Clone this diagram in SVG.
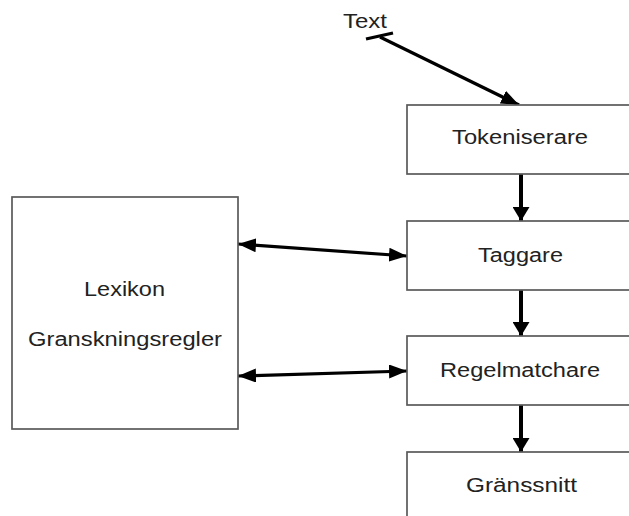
<svg xmlns="http://www.w3.org/2000/svg" width="629" height="516" viewBox="0 0 629 516">
  <defs>
    <style>
      .box { fill: #ffffff; stroke: #5a5a5a; stroke-width: 1.7; }
      .lbl { font-family: "Liberation Sans", Arial, sans-serif; font-size: 19.5px; fill: #222222; text-anchor: middle; }
      .wire { fill: none; stroke: #000000; stroke-width: 3.2; }
      .down { stroke-width: 4; }
    </style>
    <!-- arrowhead for roughly horizontal wires -->
    <marker id="headH" viewBox="0 0 18 14" refX="18" refY="7" markerWidth="18" markerHeight="14" markerUnits="userSpaceOnUse" orient="auto-start-reverse">
      <path d="M0,0 L18,7 L0,14 Z" fill="#000"/>
    </marker>
    <!-- arrowhead for vertical wires -->
    <marker id="headV" viewBox="0 0 14 17" refX="14" refY="8.5" markerWidth="14" markerHeight="17" markerUnits="userSpaceOnUse" orient="auto">
      <path d="M0,0 L14,8.5 L0,17 Z" fill="#000"/>
    </marker>
  </defs>
  <rect width="629" height="516" fill="#ffffff"/>

  <g id="connectors">
    <!-- input "Text" into the tokeniser -->
    <line class="wire" x1="366" y1="39" x2="393" y2="33"/>
    <line class="wire" x1="380" y1="37" x2="519" y2="105" marker-end="url(#headH)"/>
    <!-- pipeline -->
    <line class="wire down" x1="521" y1="174" x2="521" y2="221" marker-end="url(#headV)"/>
    <line class="wire down" x1="521" y1="290" x2="521" y2="336" marker-end="url(#headV)"/>
    <line class="wire down" x1="521" y1="405" x2="521" y2="452" marker-end="url(#headV)"/>
    <!-- lexicon / rules exchange -->
    <line class="wire" x1="238" y1="244" x2="407" y2="256" marker-start="url(#headH)" marker-end="url(#headH)"/>
    <line class="wire" x1="238" y1="376" x2="407" y2="371" marker-start="url(#headH)" marker-end="url(#headH)"/>
  </g>

  <g id="input">
    <text class="lbl" x="365" y="28" textLength="44" lengthAdjust="spacingAndGlyphs">Text</text>
  </g>

  <g id="tokeniserare">
    <rect class="box" x="407" y="105" width="226" height="69"/>
    <text class="lbl" x="520" y="144" textLength="136" lengthAdjust="spacingAndGlyphs">Tokeniserare</text>
  </g>

  <g id="taggare">
    <rect class="box" x="407" y="221" width="226" height="69"/>
    <text class="lbl" x="520.5" y="262" textLength="85" lengthAdjust="spacingAndGlyphs">Taggare</text>
  </g>

  <g id="regelmatchare">
    <rect class="box" x="407" y="336" width="226" height="69"/>
    <text class="lbl" x="520" y="377" textLength="160" lengthAdjust="spacingAndGlyphs">Regelmatchare</text>
  </g>

  <g id="granssnitt">
    <rect class="box" x="407" y="452" width="226" height="80"/>
    <text class="lbl" x="521.5" y="492" textLength="111" lengthAdjust="spacingAndGlyphs">Gränssnitt</text>
  </g>

  <g id="lexikon">
    <rect class="box" x="12" y="197" width="226" height="232"/>
    <text class="lbl" x="124.5" y="296" textLength="81" lengthAdjust="spacingAndGlyphs">Lexikon</text>
    <text class="lbl" x="125" y="346" textLength="194" lengthAdjust="spacingAndGlyphs">Granskningsregler</text>
  </g>
</svg>
